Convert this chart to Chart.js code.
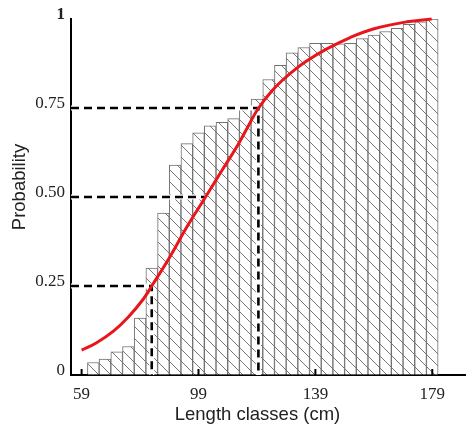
<!DOCTYPE html>
<html>
<head>
<meta charset="utf-8">
<script src="https://cdn.jsdelivr.net/npm/chart.js@4.4.1/dist/chart.umd.min.js"></script>
<style>
html,body{margin:0;padding:0;background:#fff;}
#wrap{width:467px;height:431px;}
</style>
</head>
<body>
<div id="wrap"><canvas id="c" width="467" height="431"></canvas></div>
<script>
// ---- data ----
const lengthClasses = [63,67,71,75,79,83,87,91,95,99,103,107,111,115,119,123,127,131,135,139,143,147,151,155,159,163,167,171,175,179];
const observedProb = [0.035,0.045,0.065,0.08,0.16,0.30,0.455,0.59,0.65,0.68,0.70,0.71,0.72,0.75,0.775,0.83,0.87,0.905,0.92,0.932,0.932,0.93,0.932,0.945,0.955,0.965,0.974,0.985,0.992,1.0];
const curveLengths = [59,64,70,75,80,83,89.3,95.1,101.2,106.9,112.1,116,119.4,124,128,132,136,142.9,150.9,158.8,170.3,178.8];
const curveProb = [0.07,0.09,0.124,0.163,0.212,0.25,0.333,0.417,0.497,0.573,0.641,0.699,0.748,0.797,0.83,0.858,0.882,0.916,0.948,0.972,0.992,1.0];
const guideLengths = [83, 101.2, 119.5];
const guideProb = [0.25, 0.50, 0.75];
const guideDrop = [true, false, true];
const xTicks = [59, 99, 139, 179];
const yTicks = [0, 0.25, 0.5, 0.75, 1];
const yTickLabels = ['0', '0.25', '0.50', '0.75', '1'];
const xTitle = 'Length classes (cm)';
const yTitle = 'Probability';
const xMin = 55.37, xMax = 190.2;

// ---- hatch pattern ----
function hatch(){
  const pc = document.createElement('canvas');
  pc.width = 12; pc.height = 12;
  const g = pc.getContext('2d');
  g.fillStyle = '#fff'; g.fillRect(0,0,12,12);
  g.strokeStyle = '#666'; g.lineWidth = 0.9;
  [-12,0,12].forEach(k=>{ g.beginPath(); g.moveTo(k,0); g.lineTo(k+12,12); g.stroke(); });
  return document.getElementById('c').getContext('2d').createPattern(pc,'repeat');
}

const guideSets = [];
guideLengths.forEach((L,i)=>{
  const pts = [{x:xMin,y:guideProb[i]},{x:L,y:guideProb[i]}];
  if (guideDrop[i]) pts.push({x:L,y:0});
  guideSets.push({type:'line', data:pts, borderColor:'#fff', borderWidth:5, pointRadius:0, tension:0, order:5, clip:false});
  guideSets.push({type:'line', data:pts, borderColor:'#000', borderWidth:2.6, borderDash:[8,5], pointRadius:0, tension:0, order:4, clip:false});
});

const decorations = {
  id:'decorations',
  afterDatasetsDraw(chart){
    const {ctx, scales:{x,y}} = chart;
    const base = y.getPixelForValue(0);
    ctx.save();
    ctx.strokeStyle = '#000'; ctx.lineWidth = 2;
    xTicks.forEach(v=>{
      const px = x.getPixelForValue(v);
      ctx.beginPath(); ctx.moveTo(px, base); ctx.lineTo(px, base-6); ctx.stroke();
    });
    ctx.restore();
  },
  afterDraw(chart){
    const ctx = chart.ctx;
    ctx.save();
    ctx.fillStyle = '#222';
    ctx.font = '18.5px "Liberation Sans", Arial, sans-serif';
    ctx.textAlign = 'center'; ctx.textBaseline = 'alphabetic';
    ctx.fillText(xTitle, 257.5, 419.5);
    ctx.translate(25, 187);
    ctx.rotate(-Math.PI/2);
    ctx.fillText(yTitle, 0, 0);
    ctx.restore();
  }
};

new Chart(document.getElementById('c'), {
  type:'bar',
  data:{
    datasets:[
      {type:'line', data: curveLengths.map((L,i)=>({x:L,y:curveProb[i]})), borderColor:'#e8161c', borderWidth:3, pointRadius:0, tension:0.4, order:1, clip:false},
      ...guideSets,
      {type:'bar', data: lengthClasses.map((L,i)=>({x:L,y:observedProb[i]})), backgroundColor: hatch(), borderColor:'#707070', borderWidth:1, barPercentage:1, categoryPercentage:1, order:10}
    ]
  },
  options:{
    responsive:false, animation:false,
    layout:{padding:{top:19,right:2,left:0,bottom:0}},
    plugins:{legend:{display:false}, tooltip:{enabled:false}},
    scales:{
      x:{
        type:'linear', min:xMin, max:xMax, offset:false,
        afterBuildTicks(s){ s.ticks = xTicks.map(v=>({value:v})); },
        afterFit(s){ s.height = 56; },
        grid:{drawOnChartArea:false, drawTicks:false, offset:false},
        border:{display:true, color:'#000', width:2},
        ticks:{padding:9, color:'#222', font:{family:'"Liberation Serif", "Times New Roman", serif', size:17}, callback:v=>String(v), maxRotation:0, autoSkip:false}
      },
      y:{
        type:'linear', min:0, max:1,
        afterBuildTicks(s){ s.ticks = yTicks.map(v=>({value:v})); },
        afterFit(s){ s.width = 71; },
        grid:{drawOnChartArea:false, drawTicks:false},
        border:{display:true, color:'#000', width:2},
        ticks:{padding:6, labelOffset:-4, color:'#222',
          font:(c)=>({family:'"Liberation Serif", "Times New Roman", serif', size:17, weight:(c.tick && c.tick.value===1)?'bold':'normal'}),
          callback:(v)=>{ const i = yTicks.indexOf(v); return i>=0 ? yTickLabels[i] : ''; }}
      }
    }
  },
  plugins:[decorations]
});
</script>
</body>
</html>
